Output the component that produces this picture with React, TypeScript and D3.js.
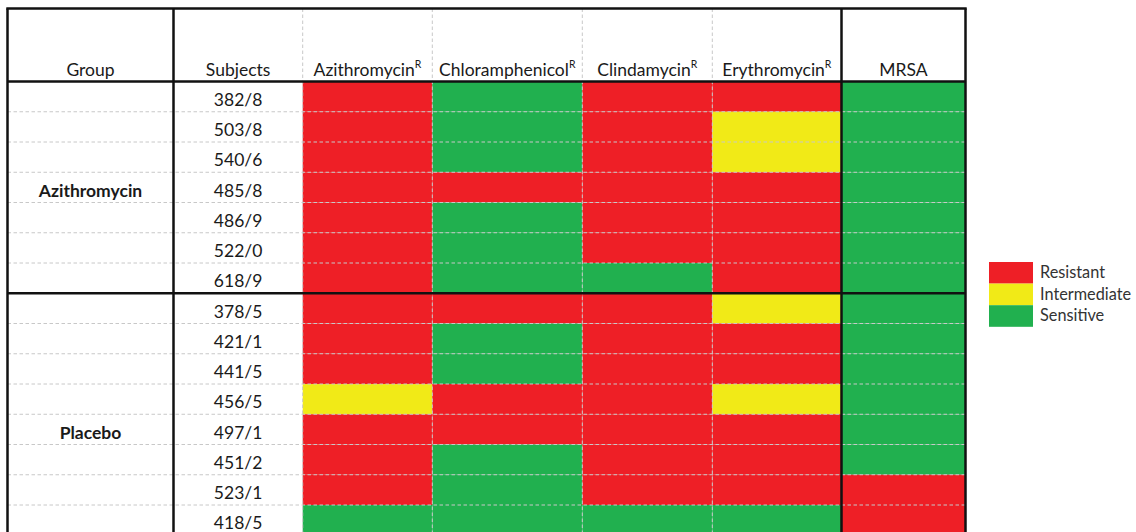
import React from "react";
import * as d3 from "d3";

const drugs = ["Azithromycin", "Chloramphenicol", "Clindamycin", "Erythromycin", "MRSA"];
const superscripted = [true, true, true, true, false];
const groups = ["Azithromycin", "Placebo"];
const groupLabelRow = ["485/8", "497/1"];
const azithroSubjects = ["382/8", "503/8", "540/6", "485/8", "486/9", "522/0", "618/9"];
const placeboSubjects = ["378/5", "421/1", "441/5", "456/5", "497/1", "451/2", "523/1", "418/5"];
// R = Resistant, I = Intermediate, S = Sensitive ; order follows drugs
const azithroResults = [
  ["R", "S", "R", "R", "S"],
  ["R", "S", "R", "I", "S"],
  ["R", "S", "R", "I", "S"],
  ["R", "R", "R", "R", "S"],
  ["R", "S", "R", "R", "S"],
  ["R", "S", "R", "R", "S"],
  ["R", "S", "S", "R", "S"],
];
const placeboResults = [
  ["R", "R", "R", "I", "S"],
  ["R", "S", "R", "R", "S"],
  ["R", "S", "R", "R", "S"],
  ["I", "R", "R", "I", "S"],
  ["R", "R", "R", "R", "S"],
  ["R", "S", "R", "R", "S"],
  ["R", "S", "R", "R", "R"],
  ["S", "S", "S", "S", "R"],
];
const legendKeys = ["R", "I", "S"];
const legendLabels = ["Resistant", "Intermediate", "Sensitive"];

const W = 1136;
const H = 532;
const FONT = "Lato, 'Open Sans', sans-serif";

export default function App() {
  const subjects = [...azithroSubjects, ...placeboSubjects];
  const results = [...azithroResults, ...placeboResults];

  const headerTop = 8.5;
  const headerBottom = 81.5;
  const rowH = 30.25;
  const y = d3
    .scaleBand<string>()
    .domain(subjects)
    .range([headerBottom, headerBottom + rowH * subjects.length])
    .padding(0);

  const xLeft = 7.5;
  const xSubj = 173.5;
  const drugEdges = [302.7, 432.3, 582.3, 712.3, 841.5, 965.5];
  const xDrug = d3.scaleOrdinal<string, number>().domain(drugs).range(drugEdges.slice(0, 5));
  const wDrug = (d: string) => drugEdges[drugs.indexOf(d) + 1] - drugEdges[drugs.indexOf(d)];
  const xRight = drugEdges[5];

  const color = d3
    .scaleOrdinal<string, string>()
    .domain(legendKeys)
    .range(["#ee1f26", "#f1ea17", "#21b04f"]);

  const bottom = H + 10;
  const groupBoundary = y(placeboSubjects[0])!;

  const dash = "3.5 2.5";
  const gridColor = "#c8c8c8";

  return (
    <svg
      width={W}
      height={H}
      style={{ position: "absolute", left: 0, top: 0, background: "#fff" }}
      fontFamily={FONT}
    >
      <rect x={0} y={0} width={W} height={H} fill="#fff" />
      {/* cells */}
      {subjects.map((s, i) =>
        drugs.map((d, j) => (
          <rect
            key={s + d}
            x={xDrug(d)}
            y={y(s)}
            width={wDrug(d)}
            height={y.bandwidth()}
            fill={color(results[i][j])}
          />
        ))
      )}
      {/* dashed horizontal grid */}
      {subjects.slice(1).map((s) =>
        s === placeboSubjects[0] ? null : (
          <line
            key={"h" + s}
            x1={xLeft}
            x2={xRight}
            y1={y(s)}
            y2={y(s)}
            stroke={gridColor}
            strokeWidth={1}
            strokeDasharray={dash}
          />
        )
      )}
      {/* dashed vertical grid */}
      {drugEdges.slice(0, 4).map((x, k) => (
        <line
          key={"v" + k}
          x1={x}
          x2={x}
          y1={headerTop}
          y2={bottom}
          stroke={gridColor}
          strokeWidth={1}
          strokeDasharray={dash}
        />
      ))}
      {/* thick lines */}
      <g stroke="#111" strokeWidth={2.5} fill="none">
        <line x1={xLeft - 1.2} x2={xRight + 1.2} y1={headerTop} y2={headerTop} />
        <line x1={xLeft} x2={xLeft} y1={headerTop} y2={bottom} />
        <line x1={xRight} x2={xRight} y1={headerTop} y2={bottom} />
        <line x1={xSubj} x2={xSubj} y1={headerTop} y2={bottom} />
        <line x1={drugEdges[4]} x2={drugEdges[4]} y1={headerTop} y2={bottom} />
        <line x1={xLeft} x2={xRight} y1={headerBottom} y2={headerBottom} />
        <line x1={xLeft} x2={xRight} y1={groupBoundary} y2={groupBoundary} />
      </g>
      {/* header */}
      <g fontSize={17.5} fill="#1a1a1a" textAnchor="middle">
        <text x={(xLeft + xSubj) / 2} y={headerBottom - 6}>Group</text>
        <text x={(xSubj + drugEdges[0]) / 2} y={headerBottom - 6}>Subjects</text>
        {drugs.map((d, j) => (
          <text key={"hd" + d} x={xDrug(d) + wDrug(d) / 2} y={headerBottom - 6}>
            {d}
            {superscripted[j] ? (
              <tspan fontSize={10.5} dy={-8}>
                R
              </tspan>
            ) : null}
          </text>
        ))}
      </g>
      {/* subjects */}
      <g fontSize={17.5} fill="#1a1a1a" textAnchor="middle">
        {subjects.map((s) => (
          <text key={"s" + s} x={(xSubj + drugEdges[0]) / 2} y={y(s)! + y.bandwidth() - 6}>
            {s}
          </text>
        ))}
        {groups.map((g, k) => (
          <text
            key={"g" + g}
            x={(xLeft + xSubj) / 2}
            y={y(groupLabelRow[k])! + y.bandwidth() - 6}
            fontWeight="bold"
          >
            {g}
          </text>
        ))}
      </g>
      {/* legend */}
      <g>
        {legendKeys.map((k, i) => (
          <g key={"l" + k}>
            <rect x={989} y={262 + i * 21.6} width={44} height={21.6} fill={color(k)} />
            <text x={1040} y={262 + i * 21.6 + 16} fontSize={16.3} fill="#333">
              {legendLabels[i]}
            </text>
          </g>
        ))}
      </g>
    </svg>
  );
}
